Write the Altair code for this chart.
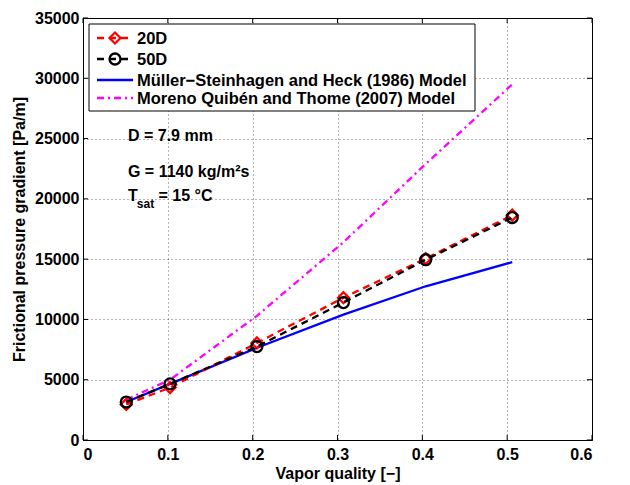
import altair as alt
import pandas as pd

# ---- data ----
x_quality = [0.051, 0.1026, 0.205, 0.307, 0.404, 0.506]
dp_20D = [2950, 4350, 8050, 11800, 15050, 18650]
dp_50D = [3150, 4650, 7750, 11400, 14950, 18450]
dp_mshk = [3150, 4650, 7650, 10400, 12750, 14750]
dp_mqt = [3350, 5000, 10300, 16400, 22900, 29500]

series_names = ["20D", "50D",
                "Müller\u2212Steinhagen and Heck (1986) Model",
                "Moreno Quibén and Thome (2007) Model"]
series_colors = ["#ff0000", "#000000", "#0000ff", "#ff00ff"]

x_ticks = [0, 0.1, 0.2, 0.3, 0.4, 0.5, 0.6]
y_ticks = [0, 5000, 10000, 15000, 20000, 25000, 30000, 35000]

FONT = "Liberation Sans"

rows = []
for name, vals in zip(series_names, [dp_20D, dp_50D, dp_mshk, dp_mqt]):
    for xv, yv in zip(x_quality, vals):
        rows.append({"x": xv, "y": yv, "series": name})
df = pd.DataFrame(rows)

xs = alt.Scale(domain=[0, 0.6], nice=False, zero=False)
ys = alt.Scale(domain=[0, 35000], nice=False)

X = alt.X("x:Q", scale=xs, title="Vapor quality [\u2212]",
          axis=alt.Axis(values=x_ticks, format="~g", grid=True, gridDash=[1, 3],
                        gridColor="#000000", gridOpacity=0.6, ticks=False,
                        labelFont=FONT, labelFontSize=16, labelFontWeight="bold",
                        labelColor="#000", titleFont=FONT, titleFontSize=16,
                        titleFontWeight="bold", titleColor="#000", labelPadding=6,
                        titlePadding=3, domainColor="#000"))
Y = alt.Y("y:Q", scale=ys, title="Frictional pressure gradient [Pa/m]",
          axis=alt.Axis(values=y_ticks, format="d", grid=True, gridDash=[1, 3],
                        gridColor="#000000", gridOpacity=0.6, ticks=False,
                        labelFont=FONT, labelFontSize=16, labelFontWeight="bold",
                        labelColor="#000", titleFont=FONT, titleFontSize=16,
                        titleFontWeight="bold", titleColor="#000", labelPadding=4,
                        titlePadding=7, domainColor="#000"))

base = alt.Chart(df)

def sel(name):
    return alt.datum.series == name

l_mshk = base.transform_filter(sel(series_names[2])).mark_line(
    color=series_colors[2], strokeWidth=2.3).encode(x=X, y=Y)
l_mqt = base.transform_filter(sel(series_names[3])).mark_line(
    color=series_colors[3], strokeWidth=2.3, strokeDash=[7, 4, 2, 4]).encode(x=X, y=Y)
l_20 = base.transform_filter(sel(series_names[0])).mark_line(
    color=series_colors[0], strokeWidth=2.3, strokeDash=[7, 5]).encode(x=X, y=Y)
p_20 = base.transform_filter(sel(series_names[0])).mark_point(
    shape="diamond", color=series_colors[0], strokeWidth=2.3, size=120, filled=False,
    opacity=1).encode(x=X, y=Y)
l_50 = base.transform_filter(sel(series_names[1])).mark_line(
    color=series_colors[1], strokeWidth=2.3, strokeDash=[7, 5]).encode(x=X, y=Y)
p_50 = base.transform_filter(sel(series_names[1])).mark_point(
    shape="circle", color=series_colors[1], strokeWidth=2.3, size=120, filled=False,
    opacity=1).encode(x=X, y=Y)

# inward ticks on all four sides
xt = pd.DataFrame({"x": x_ticks})
yt = pd.DataFrame({"y": y_ticks})
tick_b = alt.Chart(xt).mark_rule(color="#000").encode(
    x=alt.X("x:Q", scale=xs), y=alt.datum(0), y2=alt.datum(420))
tick_t = alt.Chart(xt).mark_rule(color="#000").encode(
    x=alt.X("x:Q", scale=xs), y=alt.datum(35000), y2=alt.datum(34580))
tick_l = alt.Chart(yt).mark_rule(color="#000").encode(
    y=alt.Y("y:Q", scale=ys), x=alt.datum(0), x2=alt.datum(0.006))
tick_r = alt.Chart(yt).mark_rule(color="#000").encode(
    y=alt.Y("y:Q", scale=ys), x=alt.datum(0.6), x2=alt.datum(0.594))

# annotations
ann_main = pd.DataFrame({
    "x": [0.053, 0.053],
    "y": [25200, 22250],
    "t": ["D = 7.9 mm", "G = 1140 kg/m\u00b2s"],
})
ann = alt.Chart(ann_main).mark_text(
    align="left", baseline="middle", font=FONT, fontSize=16, fontWeight="bold",
    color="#000").encode(x=alt.X("x:Q", scale=xs), y=alt.Y("y:Q", scale=ys), text="t:N")
ann_T = alt.Chart(pd.DataFrame({"x": [0.053], "y": [20250], "t": ["T"]})).mark_text(
    align="left", baseline="middle", font=FONT, fontSize=16, fontWeight="bold",
    color="#000").encode(x=alt.X("x:Q", scale=xs), y=alt.Y("y:Q", scale=ys), text="t:N")
ann_sub = alt.Chart(pd.DataFrame({"x": [0.0635], "y": [19550], "t": ["sat"]})).mark_text(
    align="left", baseline="middle", font=FONT, fontSize=12, fontWeight="bold",
    color="#000").encode(x=alt.X("x:Q", scale=xs), y=alt.Y("y:Q", scale=ys), text="t:N")
ann_rest = alt.Chart(pd.DataFrame({"x": [0.089], "y": [20250], "t": ["= 15 \u00b0C"]})).mark_text(
    align="left", baseline="middle", font=FONT, fontSize=16, fontWeight="bold",
    color="#000").encode(x=alt.X("x:Q", scale=xs), y=alt.Y("y:Q", scale=ys), text="t:N")

# legend (drawn inside the plot, top-left)
leg_df = pd.DataFrame({"label": series_names, "row": [0, 1, 2, 3]})
leg_box = alt.Chart(leg_df).transform_filter(alt.datum.row == 0).mark_rect(
    fill="white", stroke="black", strokeWidth=1).encode(
    x=alt.value(6), x2=alt.value(392), y=alt.value(6), y2=alt.value(93))
row_y = [20, 41, 62, 80]
leg_layers = [leg_box]
dashes = [[7, 5], [7, 5], None, [7, 4, 2, 4]]
for i, name in enumerate(series_names):
    d = leg_df[leg_df.row == i]
    kw = dict(color=series_colors[i], strokeWidth=2.3)
    if dashes[i] is not None:
        kw["strokeDash"] = dashes[i]
    leg_layers.append(alt.Chart(d).mark_rule(**kw).encode(
        x=alt.value(14), x2=alt.value(50), y=alt.value(row_y[i])))
    leg_layers.append(alt.Chart(d).mark_text(
        align="left", baseline="middle", font=FONT, fontSize=16.5, fontWeight="bold",
        color="#000").encode(x=alt.value(54), y=alt.value(row_y[i] + 1), text="label:N"))
leg_layers.append(alt.Chart(leg_df[leg_df.row == 0]).mark_point(
    shape="diamond", color=series_colors[0], strokeWidth=2.3, size=120, filled=False,
    opacity=1).encode(x=alt.value(32), y=alt.value(row_y[0])))
leg_layers.append(alt.Chart(leg_df[leg_df.row == 1]).mark_point(
    shape="circle", color=series_colors[1], strokeWidth=2.3, size=120, filled=False,
    opacity=1).encode(x=alt.value(32), y=alt.value(row_y[1])))

chart = alt.layer(
    l_mshk, l_mqt, l_20, p_20, l_50, p_50,
    tick_b, tick_t, tick_l, tick_r,
    ann, ann_T, ann_sub, ann_rest,
    *leg_layers
).properties(
    width=509, height=422, autosize="none",
    padding={"left": 83, "top": 18, "right": 38, "bottom": 45},
    background="white",
).configure_view(stroke="#000", strokeWidth=1)

chart.save("out.html", embed_options={"renderer": "svg", "actions": False})
